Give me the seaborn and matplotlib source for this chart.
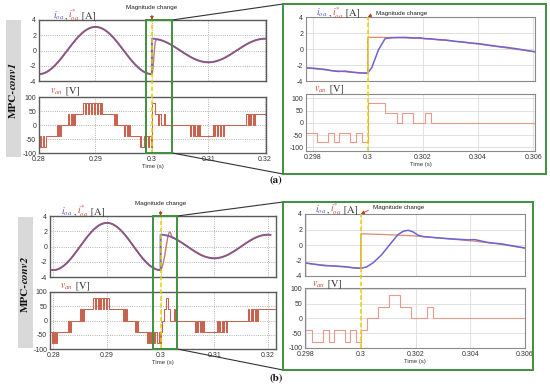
import numpy as np
import matplotlib
matplotlib.use("Agg")
import matplotlib.pyplot as plt
import matplotlib.transforms as mtransforms
from matplotlib.patches import Rectangle
from matplotlib.lines import Line2D
import seaborn as sns

# ---------------- data ----------------
# overview current reference: sampled on a 0.5 ms grid
t_pre = np.round(np.arange(0.278, 0.30001, 0.0005), 5)
i_pre = [-2.51, -2.76, -2.95, -3.06, -3.10, -3.06, -2.95, -2.76, -2.51, -2.19,
         -1.82, -1.41, -0.96, -0.48, 0.00, 0.48, 0.96, 1.41, 1.82, 2.19,
         2.51, 2.76, 2.95, 3.06, 3.10, 3.06, 2.95, 2.76, 2.51, 2.19,
         1.82, 1.41, 0.96, 0.48, 0.00, -0.48, -0.96, -1.41, -1.82, -2.19,
         -2.51, -2.76, -2.95, -3.06, -3.10]
t_post = np.round(np.arange(0.300, 0.32051, 0.0005), 5)
i_post = [1.55, 1.53, 1.47, 1.38, 1.25, 1.10, 0.91, 0.70, 0.48, 0.24,
          0.00, -0.24, -0.48, -0.70, -0.91, -1.10, -1.25, -1.38, -1.47, -1.53,
          -1.55, -1.53, -1.47, -1.38, -1.25, -1.10, -0.91, -0.70, -0.48, -0.24,
          0.00, 0.24, 0.48, 0.70, 0.91, 1.10, 1.25, 1.38, 1.47, 1.53,
          1.55, 1.53]
# transients of the measured current after the step (overview)
tr_a_t = [0.3002, 0.3004, 0.3006, 0.3008]
tr_a_i = [-2.30, -0.20, 1.20, 1.40]
tr_b_t = [0.30020, 0.30045, 0.30075, 0.30106, 0.30136, 0.30155, 0.30173, 0.30191, 0.30209, 0.30227]
tr_b_i = [-2.84, -2.29, -1.30, 0.06, 1.35, 1.77, 1.90, 1.69, 1.26, 1.09]

# overview phase voltage (steps)
va_t = [0.27800, 0.28000, 0.28025, 0.28040, 0.28075, 0.28090, 0.28120,
        0.28326, 0.28340, 0.28360, 0.28372, 0.28385,
        0.28521, 0.28540, 0.28560, 0.28585, 0.28600, 0.28625, 0.28640,
        0.28788, 0.28810, 0.28830, 0.28870, 0.28885, 0.28920, 0.28935, 0.28975,
        0.28990, 0.29030, 0.29045, 0.29085, 0.29095, 0.29108,
        0.29333, 0.29345, 0.29360, 0.29370, 0.29381,
        0.29511, 0.29530, 0.29550, 0.29570, 0.29590, 0.29605, 0.29618,
        0.29780, 0.29800, 0.29815, 0.29857, 0.29878, 0.29897, 0.29936, 0.29956, 0.29978,
        0.30000, 0.30061, 0.30105, 0.30126, 0.30166, 0.30208, 0.30228,
        0.30679, 0.30700, 0.30720, 0.30745, 0.30765, 0.30790, 0.30810, 0.30830, 0.30844,
        0.31081, 0.31100, 0.31125, 0.31150, 0.31175, 0.31200, 0.31225, 0.31250, 0.31277,
        0.31674, 0.31695, 0.31715, 0.31740, 0.31760, 0.31785, 0.31805, 0.31815, 0.31822,
        0.32100]
va_v = [-40, -80, -40, -80, -40, -80, -40,
        0, -40, 0, -40, 0,
        40, 0, 40, 0, 40, 0, 40,
        80, 40, 80, 40, 80, 40, 80, 40,
        80, 40, 80, 40, 80, 40,
        0, 40, 0, 40, 0,
        -40, 0, -40, 0, -40, 0, -40,
        -80, -40, -80, -40, -80, -40, -80, -40, -80,
        80, 40, 0, 40, 0, 40, 0,
        -40, 0, -40, 0, -40, 0, -40, 0, -40,
        0, -40, 0, -40, 0, -40, 0, -40, 0,
        40, 0, 40, 0, 40, 0, 40, 0, 40,
        40]
vb_t = [0.27900, 0.27976, 0.27995, 0.28010, 0.28040, 0.28055, 0.28075,
        0.28273, 0.28290, 0.28310, 0.28322, 0.28335,
        0.28502, 0.28520, 0.28540, 0.28560, 0.28582,
        0.28750, 0.28775, 0.28790, 0.28830, 0.28845, 0.28880, 0.28895, 0.28935,
        0.28950, 0.28990, 0.29005, 0.29045,
        0.29308, 0.29322, 0.29340, 0.29355, 0.29371,
        0.29526, 0.29540, 0.29558, 0.29572, 0.29587,
        0.29743, 0.29770, 0.29790, 0.29805, 0.29820, 0.29863, 0.29883, 0.29903, 0.29942, 0.29962, 0.29982,
        0.30000, 0.30021, 0.30063, 0.30102, 0.30142, 0.30182, 0.30242, 0.30264,
        0.30642, 0.30660, 0.30680, 0.30705, 0.30725, 0.30750, 0.30770, 0.30795, 0.30815,
        0.31046, 0.31065, 0.31090, 0.31110, 0.31140, 0.31160, 0.31190, 0.31210, 0.31232,
        0.31633, 0.31650, 0.31675, 0.31700, 0.31725, 0.31750, 0.31775, 0.31800, 0.31820,
        0.32200]
vb_v = [-40, -80, -40, -80, -40, -80, -40,
        0, -40, 0, -40, 0,
        40, 0, 40, 0, 40,
        80, 40, 80, 40, 80, 40, 80, 40,
        80, 40, 80, 40,
        0, 40, 0, 40, 0,
        -40, 0, -40, 0, -40,
        -80, -40, -80, -40, -80, -40, -80, -40, -80, -40, -80,
        -40, 0, 40, 80, 40, 0, 40, 0,
        -40, 0, -40, 0, -40, 0, -40, 0, -40,
        0, -40, 0, -40, 0, -40, 0, -40, 0,
        40, 0, 40, 0, 40, 0, 40, 0, 40,
        40]

# zoomed views (0.298 .. 0.306 s)
za_t = [0.29770, 0.29797, 0.29821, 0.29845, 0.29869, 0.29893, 0.29918, 0.29942, 0.29966, 0.29990,
        0.30000, 0.30015, 0.30039, 0.30063, 0.30087, 0.30110, 0.30136, 0.30160, 0.30172, 0.30190,
        0.30208, 0.30230, 0.30257, 0.30285, 0.30317, 0.30345, 0.30378, 0.30410, 0.30440, 0.30474,
        0.30500, 0.30530, 0.30560, 0.30590, 0.30620]
za_i = [-2.35, -2.38, -2.47, -2.55, -2.72, -2.81, -2.77, -2.89, -2.98, -3.02,
        -3.00, -2.30, -0.10, 1.30, 1.40, 1.44, 1.45, 1.40, 1.38, 1.40,
        1.30, 1.27, 1.17, 1.12, 0.96, 0.88, 0.74, 0.64, 0.48, 0.32,
        0.22, 0.08, -0.08, -0.25, -0.42]
za_ref_t = [0.2977, 0.2985, 0.2993, 0.3000, 0.3000, 0.3010, 0.3020, 0.3030, 0.3040, 0.3050, 0.3062]
za_ref_i = [-2.35, -2.62, -2.88, -3.00, 1.46, 1.44, 1.30, 1.02, 0.62, 0.15, -0.42]
zav_t = [0.2977, 0.29815, 0.29857, 0.29878, 0.29897, 0.29936, 0.29956, 0.29978,
         0.3, 0.30061, 0.30105, 0.30126, 0.30166, 0.30208, 0.30228, 0.3062]
zav_v = [-40, -80, -40, -80, -40, -80, -40, -80, 80, 40, 0, 40, 0, 40, 0, 0]

zb_t = [0.29795, 0.29802, 0.29832, 0.29869, 0.29905, 0.29942, 0.29978, 0.30000, 0.30021, 0.30045,
        0.30075, 0.30106, 0.30136, 0.30155, 0.30173, 0.30191, 0.30209, 0.30227, 0.30270, 0.30331,
        0.30392, 0.30416, 0.30465, 0.30513, 0.30562, 0.30610]
zb_i = [-2.30, -2.33, -2.50, -2.67, -2.71, -2.80, -2.97, -3.01, -2.84, -2.29,
        -1.30, 0.06, 1.35, 1.77, 1.90, 1.69, 1.26, 1.09, 0.96, 0.79,
        0.66, 0.70, 0.32, 0.15, -0.15, -0.45]
zb_ref_t = [0.2979, 0.2990, 0.2995, 0.3000, 0.3000, 0.3010, 0.3020, 0.3030, 0.3040, 0.3050, 0.3061]
zb_ref_i = [-2.33, -2.71, -2.85, -3.00, 1.45, 1.33, 1.17, 0.85, 0.55, 0.15, -0.47]
zbv_t = [0.2978, 0.2982, 0.29863, 0.29883, 0.29903, 0.29942, 0.29962, 0.29982,
         0.3, 0.30021, 0.30063, 0.30102, 0.30142, 0.30182, 0.30242, 0.30264, 0.3062]
zbv_v = [-40, -80, -40, -80, -40, -80, -40, -80, -40, 0, 40, 80, 40, 0, 40, 0, 0]

left_xticks = [0.28, 0.29, 0.30, 0.31, 0.32]
left_xlabels = ["0.28", "0.29", "0.3", "0.31", "0.32"]
right_xticks = [0.298, 0.300, 0.302, 0.304, 0.306]
right_xlabels = ["0.298", "0.3", "0.302", "0.304", "0.306"]
i_ticks = [-4, -2, 0, 2, 4]
v_ticks = [-100, -50, 0, 50, 100]
t_change = 0.3
zoom_a = (0.2990, 0.3036)
zoom_b = (0.2986, 0.3031)

# ---------------- style ----------------
sns.set_style("white")
plt.rcParams['font.family'] = ['Liberation Sans', 'DejaVu Sans']
plt.rcParams['mathtext.fontset'] = 'stix'

W, H = 550, 389
fig = plt.figure(figsize=(5.5, 3.89), dpi=100)


def px_axes(x0, y0, x1, y1):
    return fig.add_axes([x0 / W, 1 - y1 / H, (x1 - x0) / W, (y1 - y0) / H])


A_lt = px_axes(39, 20, 266, 81)
A_lb = px_axes(39, 97, 266, 153)
A_rt = px_axes(306, 17, 535, 81)
A_rb = px_axes(306, 94, 535, 151)
B_lt = px_axes(50, 216, 276, 277)
B_lb = px_axes(50, 292, 276, 349)
B_rt = px_axes(305, 214, 525, 276)
B_rb = px_axes(305, 288, 525, 348)

BLUE = "#6f62d4"
RED_L = "#a8503e"
REF_R = "#dc8c6c"
V_L = "#c9634f"
V_R = "#e79a8b"


def line(ax, x, y, color, lw, alpha=1.0, steps=False):
    kw = dict(drawstyle="steps-post") if steps else {}
    sns.lineplot(x=list(x), y=list(y), ax=ax, color=color, lw=lw, alpha=alpha,
                 estimator=None, sort=False, **kw)


# overview panels
for ax_t, ax_b, tr_t, tr_i, vt, vv in [(A_lt, A_lb, tr_a_t, tr_a_i, va_t, va_v),
                                      (B_lt, B_lb, tr_b_t, tr_b_i, vb_t, vb_v)]:
    line(ax_t, list(t_pre) + list(t_post), i_pre + i_post, BLUE, 1.4)
    start = 2 if ax_t is A_lt else 5
    line(ax_t, list(t_pre) + tr_t + list(t_post[start:]), i_pre + tr_i + i_post[start:], RED_L, 1.0, alpha=0.75)
    line(ax_b, vt, vv, V_L, 0.75, steps=True)

# zoomed panels
line(A_rt, za_ref_t, za_ref_i, REF_R, 0.9)
line(A_rt, za_t, za_i, BLUE, 1.1)
line(A_rb, zav_t, zav_v, V_R, 0.8, steps=True)
line(B_rt, zb_ref_t, zb_ref_i, REF_R, 0.9)
line(B_rt, zb_t, zb_i, BLUE, 1.1)
line(B_rb, zbv_t, zbv_v, V_R, 0.8, steps=True)


def style(ax, left, xlim, ylim, yticks, xticks, xlabels, show_x):
    ax.set_xlim(*xlim)
    ax.set_ylim(*ylim)
    ax.set_yticks(yticks)
    ax.set_yticklabels([str(v) for v in yticks])
    ax.set_xticks(xticks)
    ax.set_ylabel("")
    if show_x:
        ax.set_xticklabels(xlabels)
        ax.set_xlabel("Time (s)", fontsize=4.3, labelpad=1, color="#333333")
    else:
        ax.set_xticklabels([])
        ax.set_xlabel("")
    ax.tick_params(length=0, labelsize=5, pad=2, colors="#333333")
    if left:
        ax.grid(True, ls=":", color="#999999", lw=0.6)
        for sp in ax.spines.values():
            sp.set_color("#5a5a5a"); sp.set_linewidth(1.0)
    else:
        ax.grid(True, ls="-", color="#dcdcdc", lw=0.6)
        for sp in ax.spines.values():
            sp.set_color("#8a8a8a"); sp.set_linewidth(0.8)
    ax.set_axisbelow(True)


style(A_lt, True, (0.2800, 0.3202), (-4, 4), i_ticks, left_xticks, left_xlabels, False)
style(A_lb, True, (0.2800, 0.3202), (-100, 100), v_ticks, left_xticks, left_xlabels, True)
style(B_lt, True, (0.2794, 0.3215), (-4, 4), i_ticks, left_xticks, left_xlabels, False)
style(B_lb, True, (0.2794, 0.3215), (-100, 100), v_ticks, left_xticks, left_xlabels, True)
style(A_rt, False, (0.29776, 0.30607), (-4, 4), i_ticks, right_xticks, right_xlabels, False)
style(A_rb, False, (0.29776, 0.30607), (-115, 118), v_ticks, right_xticks, right_xlabels, True)
style(B_rt, False, (0.29796, 0.30600), (-4, 4), i_ticks, right_xticks, right_xlabels, False)
style(B_rb, False, (0.29796, 0.30600), (-100, 103), v_ticks, right_xticks, right_xlabels, True)

renderer = fig.canvas.get_renderer()


def multicolor(ax, x, y, pieces):
    tr = ax.transAxes
    for s, c, size in pieces:
        txt = ax.text(x, y, s, color=c, transform=tr, fontsize=size, family="STIXGeneral",
                      va="baseline", ha="left", clip_on=False)
        txt.draw(renderer)
        ex = txt.get_window_extent(renderer)
        tr = mtransforms.offset_copy(txt.get_transform(), x=ex.width, units="dots")


def i_label(ax, x, y):
    multicolor(ax, x, y, [(r"$i_{oa}$", "#4f4fc8", 7), (r"$,$", "#444444", 7),
                          (r"$i^{*}_{oa}$", "#d04a3a", 7), (" [A]", "#333333", 7.5)])


def v_label(ax, x, y):
    multicolor(ax, x, y, [(r"$v_{an}$", "#d04a3a", 7), (" [V]", "#333333", 7.5)])


i_label(A_lt, 0.06, 1.03)
v_label(A_lb, 0.05, 1.06)
i_label(A_rt, 0.045, 1.02)
v_label(A_rb, 0.035, 1.04)
i_label(B_lt, 0.05, 1.03)
v_label(B_lb, 0.045, 1.06)
i_label(B_rt, 0.045, 1.03)
v_label(B_rb, 0.03, 1.03)

inv = fig.transFigure.inverted()


def xfig(ax, x):
    return inv.transform(ax.transData.transform((x, 0)))[0]


def px2f(x, y):
    return x / W, 1 - y / H


YEL = "#e6d200"
GREEN = "#3f8f3f"
for top, bot, win, outer in [(A_lt, A_lb, zoom_a, (283, 4, 546, 174)),
                             (B_lt, B_lb, zoom_b, (283, 202, 533, 370))]:
    y0 = bot.get_position().y0
    y1 = top.get_position().y1
    xf = xfig(top, t_change)
    fig.add_artist(Line2D([xf, xf], [y0, y1], transform=fig.transFigure, color=YEL,
                          lw=1.1, ls=(0, (3, 1.5)), zorder=5))
    gx0, gx1 = xfig(top, win[0]), xfig(top, win[1])
    fig.add_artist(Rectangle((gx0, y0), gx1 - gx0, y1 - y0, transform=fig.transFigure,
                             fill=False, ec=GREEN, lw=1.4, zorder=6))
    ox0, oy0 = px2f(outer[0], outer[3])
    ox1, oy1 = px2f(outer[2], outer[1])
    fig.add_artist(Rectangle((ox0, oy0), ox1 - ox0, oy1 - oy0, transform=fig.transFigure,
                             fill=False, ec=GREEN, lw=1.4, zorder=6))
    fig.add_artist(Line2D([gx1, ox0], [y1, oy1], transform=fig.transFigure, color="#333333", lw=0.8))
    fig.add_artist(Line2D([gx1, ox0], [y0, oy0], transform=fig.transFigure, color="#333333", lw=0.8))

for top, bot in [(A_rt, A_rb), (B_rt, B_rb)]:
    y0 = bot.get_position().y0
    y1 = top.get_position().y1
    xf = xfig(top, t_change)
    fig.add_artist(Line2D([xf, xf], [y0, y1], transform=fig.transFigure, color=YEL,
                          lw=1.1, ls=(0, (3, 1.5)), zorder=5))

ARROW = dict(arrowstyle="-|>", color="#b84020", lw=0.6, mutation_scale=5, shrinkA=1, shrinkB=0)
A_lt.annotate("Magnitude change", xy=(t_change, 4), xycoords="data",
              xytext=(t_change, 1 - 8 / H), textcoords=("data", "figure fraction"),
              ha="center", va="center", fontsize=4.5, color="#222222", arrowprops=ARROW,
              annotation_clip=False)
B_lt.annotate("Magnitude change", xy=(t_change, 4), xycoords="data",
              xytext=(t_change, 1 - 204 / H), textcoords=("data", "figure fraction"),
              ha="center", va="center", fontsize=4.5, color="#222222", arrowprops=ARROW,
              annotation_clip=False)
A_rt.annotate("Magnitude change", xy=(t_change, 4), xycoords="data",
              xytext=px2f(376, 13), textcoords="figure fraction",
              ha="left", va="center", fontsize=4.5, color="#222222",
              arrowprops=dict(ARROW, relpos=(0, 0.5)), annotation_clip=False)
B_rt.annotate("Magnitude change", xy=(t_change, 4), xycoords="data",
              xytext=px2f(373, 208), textcoords="figure fraction",
              ha="left", va="center", fontsize=4.5, color="#222222",
              arrowprops=dict(ARROW, relpos=(0, 0.5)), annotation_clip=False)

# grey side labels
for (x0, y0, x1, y1), num in [((6, 20, 21, 157), "1"), ((18, 217, 33, 348), "2")]:
    fx0, fy0 = px2f(x0, y1)
    fx1, fy1 = px2f(x1, y0)
    fig.add_artist(Rectangle((fx0, fy0), fx1 - fx0, fy1 - fy0, transform=fig.transFigure,
                             color="#d9d9d9", lw=0, zorder=0))
    cx = (fx0 + fx1) / 2
    cy = (fy0 + fy1) / 2 - 1 / H
    fig.text(cx, cy, "MPC-", rotation=90, ha="center", va="top", family="STIXGeneral",
             fontweight="bold", fontsize=8, color="#111111")
    fig.text(cx, cy, "conv" + num, rotation=90, ha="center", va="bottom", family="STIXGeneral",
             fontweight="bold", fontstyle="italic", fontsize=8, color="#111111")

fig.text(*px2f(276, 181), "(a)", ha="center", va="center", family="STIXGeneral",
         fontweight="bold", fontsize=8, color="#111111")
fig.text(*px2f(276, 379), "(b)", ha="center", va="center", family="STIXGeneral",
         fontweight="bold", fontsize=8, color="#111111")

fig.savefig("out.png", dpi=100)
